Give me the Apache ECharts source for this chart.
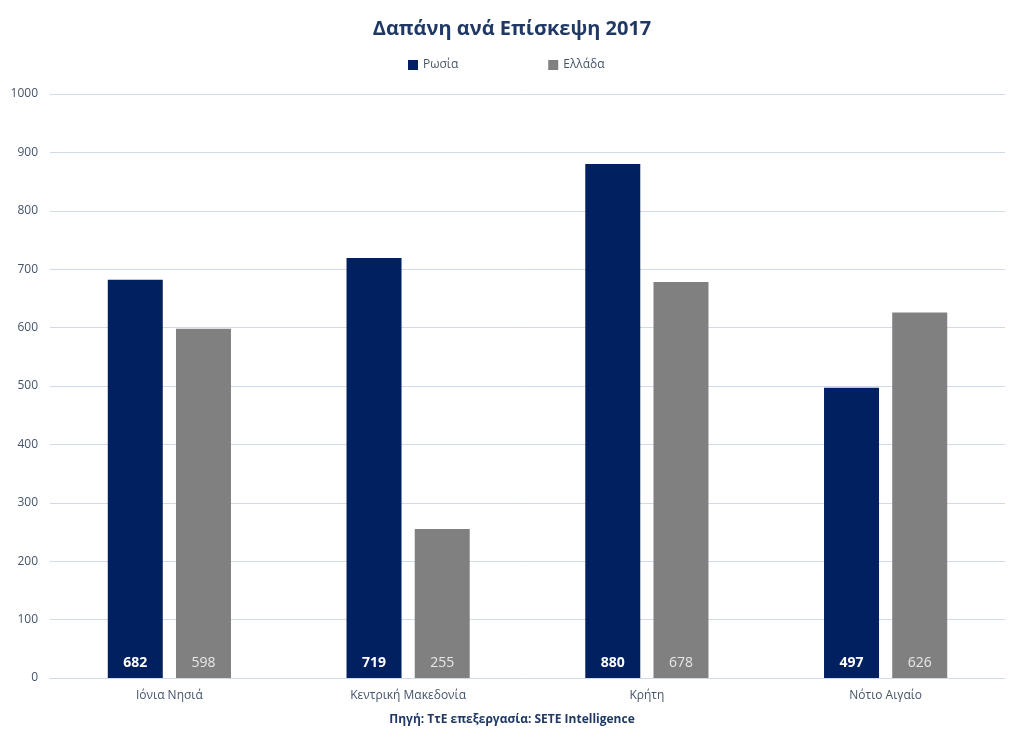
<!DOCTYPE html>
<html><head><meta charset="utf-8">
<script src="https://cdn.jsdelivr.net/npm/echarts@6/dist/echarts.min.js"></script>
<style>html,body{margin:0;padding:0;background:#fff}#c{width:1024px;height:744px}</style>
</head><body><div id="c"></div>
<script>
const categories = ['Ιόνια Νησιά', 'Κεντρική Μακεδονία', 'Κρήτη', 'Νότιο Αιγαίο'];
const russia = [682, 719, 880, 497];
const greece = [598, 255, 678, 626];
const seriesNames = ['Ρωσία', 'Ελλάδα'];
const titleText = 'Δαπάνη ανά Επίσκεψη 2017';
const sourceText = 'Πηγή: ΤτΕ επεξεργασία: SETE Intelligence';

const font = '"Open Sans", "Noto Sans", sans-serif';
const chart = echarts.init(document.getElementById('c'));
chart.setOption({
  animation: false,
  textStyle: { fontFamily: font },
  title: [{
    text: titleText, left: 'center', top: 14,
    textStyle: { fontFamily: font, fontSize: 20, fontWeight: 'bold', color: '#1F3864' }
  }, {
    text: sourceText, left: 'center', top: 709,
    textStyle: { fontFamily: font, fontSize: 12, fontWeight: 'bold', color: '#1F3864' }
  }],
  legend: {
    data: seriesNames, top: 54, left: 403, itemGap: 90,
    itemWidth: 10, itemHeight: 10, icon: 'rect',
    textStyle: { fontFamily: font, fontSize: 12, color: '#44546A' }
  },
  grid: { left: 50, right: 19, top: 94, bottom: 66, containLabel: false },
  xAxis: {
    type: 'category', data: categories,
    axisLine: { lineStyle: { color: '#D0DAEA' } },
    axisTick: { show: false },
    axisLabel: { color: '#44546A', fontSize: 12, margin: 12, fontFamily: font }
  },
  yAxis: {
    type: 'value', min: 0, max: 1000, interval: 100,
    axisLine: { show: false }, axisTick: { show: false },
    splitLine: { lineStyle: { color: '#D0DAEA' } },
    axisLabel: { color: '#44546A', fontSize: 12, margin: 12, fontFamily: font, formatter: v => String(v) }
  },
  series: [{
    name: seriesNames[0], type: 'bar', data: russia, barWidth: 55, barGap: '24%',
    itemStyle: { color: '#002060' },
    label: { show: true, position: 'insideBottom', distance: 8, color: '#fff', fontWeight: 'bold', fontSize: 14, fontFamily: font }
  }, {
    name: seriesNames[1], type: 'bar', data: greece, barWidth: 55,
    itemStyle: { color: '#808080' },
    label: { show: true, position: 'insideBottom', distance: 8, color: '#E8E8E8', fontSize: 14, fontFamily: font }
  }]
});
</script></body></html>
